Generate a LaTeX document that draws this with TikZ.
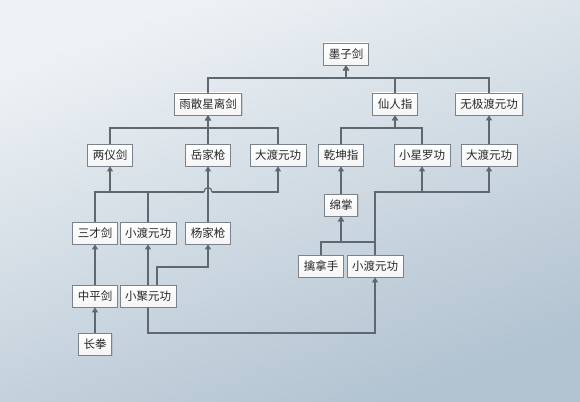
\documentclass[tikz,border=0pt]{standalone}
\usepackage{fontspec}
\newfontfamily\cjk{Noto Sans CJK SC}
\usetikzlibrary{arrows.meta, positioning, shadows}
\definecolor{bgtop}{HTML}{EEF2F5}
\definecolor{bgbot}{HTML}{B2C3D1}
\definecolor{linkc}{HTML}{5E6870}
\definecolor{boxc}{HTML}{7A838B}

\begin{document}
\begin{tikzpicture}[x=1pt,y=-1pt,
	skill/.style={draw=boxc,line width=0.8pt,top color=white,bottom color=gray!8,
		inner xsep=5pt,inner ysep=0pt,minimum height=22pt,
		font=\cjk\fontsize{11.5}{11.5}\selectfont,text=black!85,
		drop shadow={shadow xshift=1pt,shadow yshift=-1pt,opacity=0.25}},
	link/.style={draw=linkc,line width=1.1pt,-{Triangle[length=5pt,width=6pt]}},
	hop/.style={draw=linkc,line width=1.1pt}]
	\shade[top color=bgtop,bottom color=bgbot,shading angle=20] (0,0) rectangle (580,401);
	\useasboundingbox (0,0) rectangle (580,401);
	\node[skill] (mzj) at (346,54) {墨子剑};
	\node[skill] (ysxl) at (208,104) {雨散星离剑};
	\node[skill] (xrz) at (395,104) {仙人指};
	\node[skill] (wjdy) at (489,104) {无极渡元功};
	\node[skill] (lyj) at (110,155) {两仪剑};
	\node[skill] (yjq) at (208,155) {岳家枪};
	\node[skill] (ddyga) at (278,155) {大渡元功};
	\node[skill] (qkz) at (341,155) {乾坤指};
	\node[skill] (xxlg) at (422,155) {小星罗功};
	\node[skill] (ddygb) at (489,155) {大渡元功};
	\node[skill] (scj) at (95,233) {三才剑};
	\node[skill] (xdyga) at (148,233) {小渡元功};
	\node[skill] (yjqb) at (208,233) {杨家枪};
	\node[skill] (mz) at (341,205) {绵掌};
	\node[skill] (zpj) at (95,296) {中平剑};
	\node[skill] (xjyg) at (148,296) {小聚元功};
	\node[skill] (qns) at (321,266) {擒拿手};
	\node[skill] (xdygb) at (375,266) {小渡元功};
	\node[skill] (cq) at (95,344) {长拳};

	\coordinate (hopl) at (204,192);
	\coordinate (hopr) at (212,192);
	\draw[link] (ysxl.north) -- (ysxl.north |- 0,78) -| (mzj.south);
	\draw[link] (xrz.north) -- (xrz.north |- 0,78) -| (mzj.south);
	\draw[link] (wjdy.north) -- (wjdy.north |- 0,78) -| (mzj.south);
	\draw[link] (lyj.north) -- (lyj.north |- 0,128) -| (ysxl.south);
	\draw[link] (yjq.north) -- (ysxl.south);
	\draw[link] (ddyga.north) -- (ddyga.north |- 0,128) -| (ysxl.south);
	\draw[link] (qkz.north) -- (qkz.north |- 0,128) -| (xrz.south);
	\draw[link] (xxlg.north) -- (xxlg.north |- 0,128) -| (xrz.south);
	\draw[link] (ddygb.north) -- (wjdy.south);
	\draw[link] (scj.north) -- (scj.north |- 0,192) -| (lyj.south);
	\draw[hop] (xdyga.north) -- (xdyga.north |- 0,192);
	\draw[hop] (scj.north |- 0,192) -- (hopl);
	\draw[hop] (hopl) .. controls (204,186) and (212,186) .. (hopr);
	\draw[link] (hopr) -| (ddyga.south);
	\draw[link] (yjqb.north) -- (yjq.south);
	\draw[link] (zpj.north) -- (scj.south);
	\draw[link] (cq.north) -- (zpj.south);
	\draw[link] (xjyg.north) -- (xdyga.south);
	\draw[link] ([xshift=9pt]xjyg.north) -- ([xshift=9pt]xjyg.north |- 0,267) -| (yjqb.south);
	\draw[link] (xjyg.south) -- (xjyg.south |- 0,333) -| (xdygb.south);
	\draw[link] (mz.north) -- (qkz.south);
	\draw[link] (qns.north) -- (qns.north |- 0,242) -| (mz.south);
	\draw[link] (xdygb.north) -- (xdygb.north |- 0,242) -| (mz.south);
	\draw[link] (xdygb.north) -- (xdygb.north |- 0,192) -| (xxlg.south);
	\draw[link] (xdygb.north) -- (xdygb.north |- 0,192) -| (ddygb.south);
\end{tikzpicture}
\end{document}
